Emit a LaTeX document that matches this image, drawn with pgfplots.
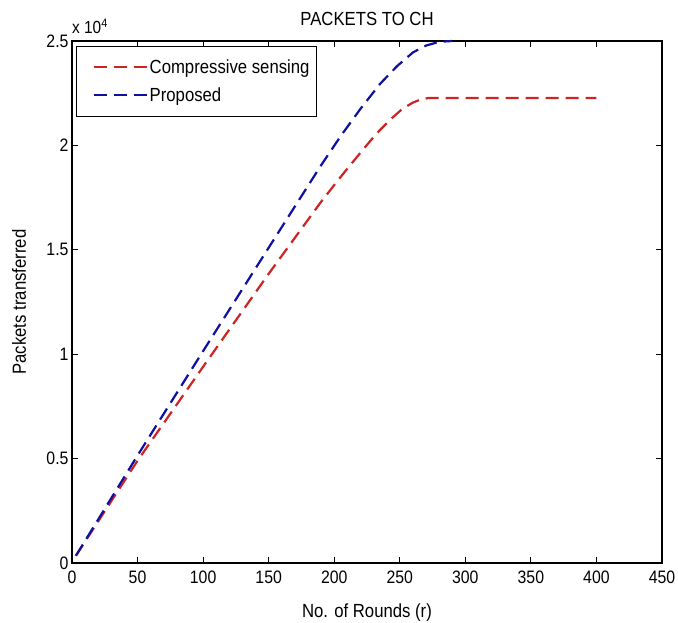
\documentclass[border=0pt]{standalone}
\usepackage{fontspec}
\setmainfont{Liberation Sans}[FakeStretch=0.88]
\usepackage{pgfplots}
\pgfplotsset{compat=1.18}
\definecolor{csred}{RGB}{205,35,35}
\definecolor{prblue}{RGB}{15,15,160}
\begin{document}
\begin{tikzpicture}
\begin{axis}[
  scale only axis, width=590pt, height=522pt,
  at={(0pt,0pt)}, anchor=south west,
  xmin=0, xmax=450, ymin=0, ymax=25000,
  xtick={0,50,...,450},
  ytick={0,5000,10000,15000,20000,25000},
  scaled y ticks=base 10:-4,
  ytick scale label code/.code={x 10\textsuperscript{4}},
  every y tick scale label/.style={at={(axis description cs:0,1)}, anchor=base west, yshift=7pt, inner sep=0pt, font=\fontsize{17.5}{20}\selectfont},
  /pgf/number format/assume math mode=true,
  yticklabel style={/pgf/number format/fixed},
  tick align=inside,
  xtick pos=both, ytick pos=both,
  major tick length=6pt,
  axis line style={line width=1.1pt, black},
  every tick/.style={line width=0.9pt, black},
  every tick label/.append style={font=\fontsize{18}{22}\selectfont},
  xticklabel style={yshift=-4pt},
  title={PACKETS TO CH},
  every axis title/.style={at={(axis description cs:0.5,1)}, anchor=base, yshift=15pt, font=\fontsize{19}{23}\selectfont},
  xlabel={No. of Rounds (r)},
  every axis x label/.style={at={(axis description cs:0.5,0)}, anchor=base, yshift=-55pt, font=\fontsize{19}{23}\selectfont},
  ylabel={Packets transferred},
  every axis y label/.style={at={(axis description cs:0,0.5)}, rotate=90, anchor=base, yshift=46pt, font=\fontsize{19}{23}\selectfont},
  clip=false,
  legend cell align=left,
  legend image code/.code={\draw[#1] (0pt,0pt) ++(11pt,0pt) -- ++(53pt,0pt);},
  legend style={at={(axis description cs:0,1)}, anchor=north west, xshift=4pt, yshift=-5pt,
    draw=black, line width=1pt, fill=white, inner xsep=5pt, inner ysep=11pt,
    row sep=9pt, font=\fontsize{19}{23}\selectfont},
]
\addplot[color=csred, line width=2.2pt, dash pattern=on 13pt off 7pt] coordinates {
 (3,350) (50,4900) (100,9400) (150,13850) (190,17300) (205,18500) (220,19650) (232,20550)
 (243,21250) (252,21750) (260,22050) (266,22200) (272,22270) (400,22270)
};
\addlegendentry{Compressive sensing}
\addplot[color=prblue, line width=2.2pt, dash pattern=on 13pt off 7pt] coordinates {
 (3,350) (50,5150) (100,10150) (150,15100) (190,19050) (205,20450) (220,21750) (235,22950)
 (248,23800) (260,24450) (270,24780) (280,24960) (290,25000)
};
\addlegendentry{Proposed}
\end{axis}
\pgfresetboundingbox
\path[use as bounding box] (-72pt,-60pt) rectangle (606pt,563pt);
\end{tikzpicture}
\end{document}
